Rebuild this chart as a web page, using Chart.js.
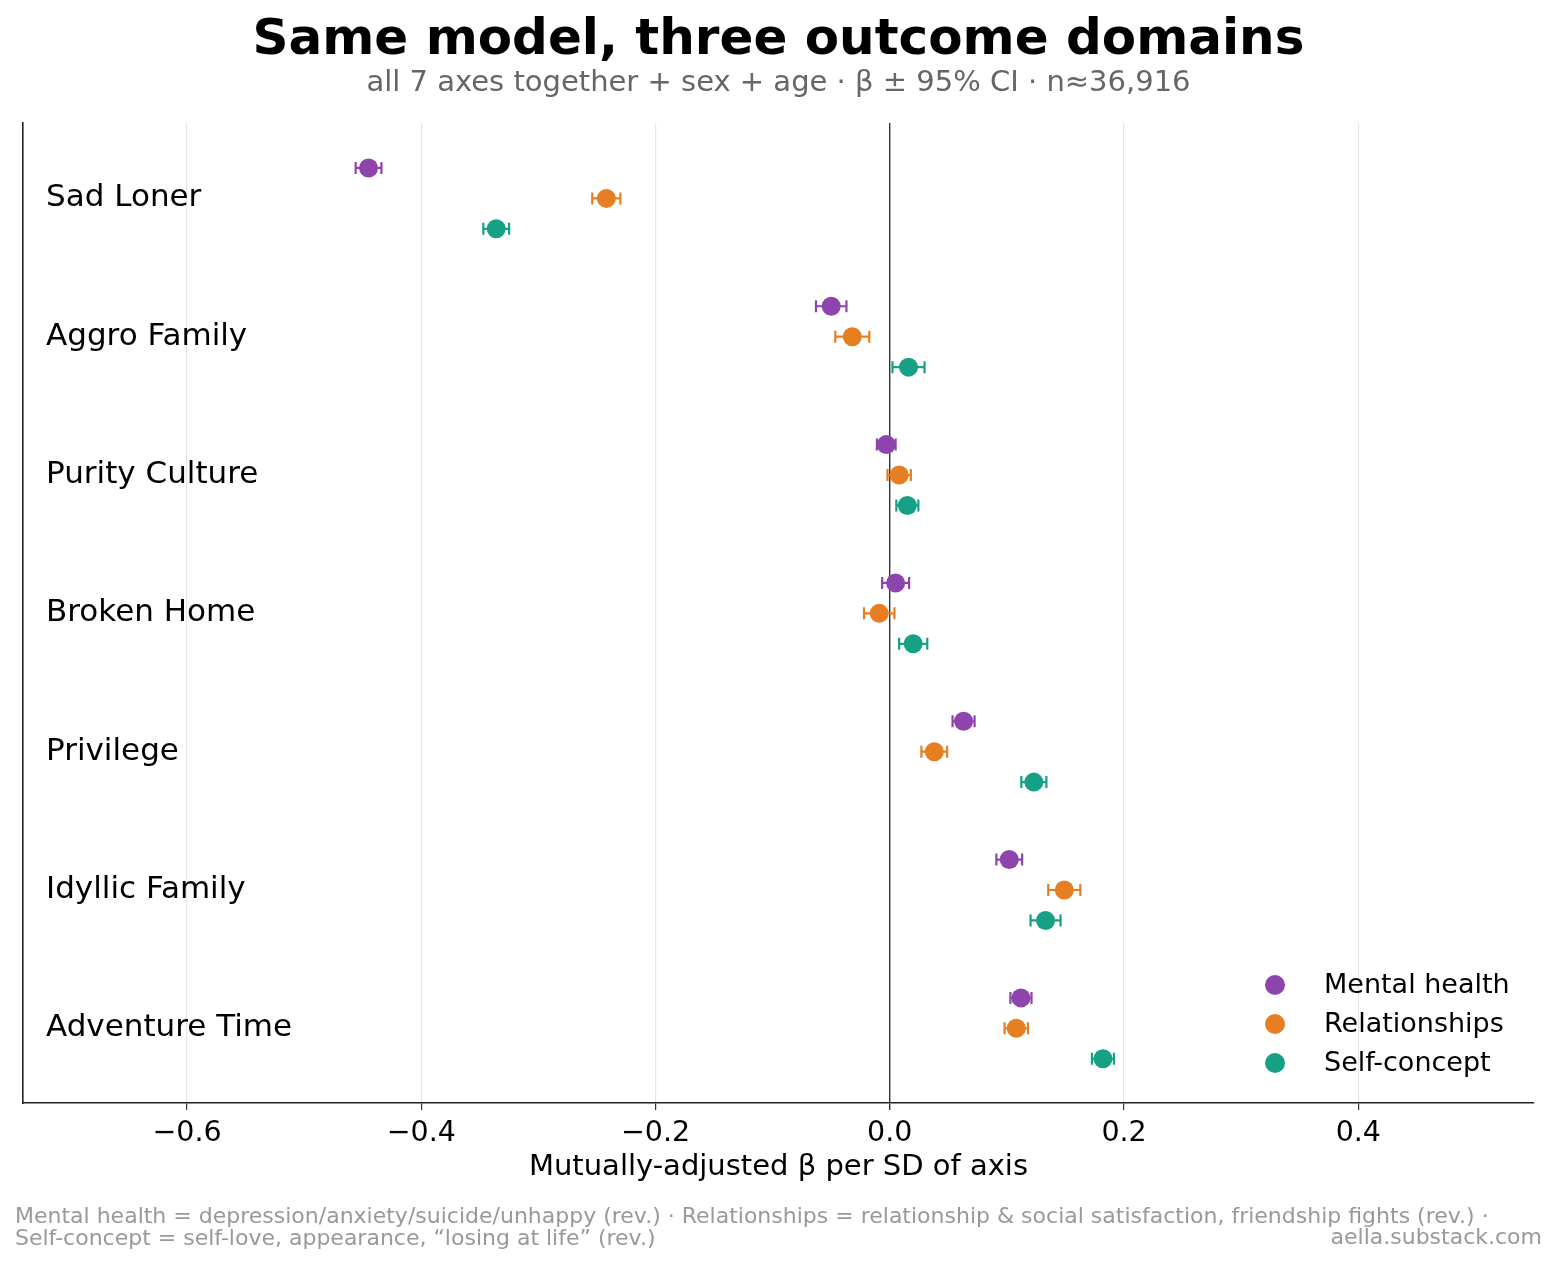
<!DOCTYPE html>
<html>
<head>
<meta charset="utf-8">
<script src="https://cdn.jsdelivr.net/npm/chart.js@4.4.1/dist/chart.umd.min.js"></script>
<style>
  body { margin: 0; background: #fff; font-family: 'DejaVu Sans', sans-serif; }
  #wrap { position: relative; width: 1557px; height: 1265px; }
  #chart { position: absolute; left: 0; top: 0; }
  .txt { position: absolute; white-space: nowrap; }
  #title { left: 0; width: 1557px; top: 8px; text-align: center; font-size: 50px; font-weight: bold; color: #000; }
  #subtitle { left: 0; width: 1557px; top: 64px; text-align: center; font-size: 29px; color: #666; }
  #foot1 { left: 15px; top: 1203px; font-size: 22px; color: #999; }
  #foot2 { left: 15px; top: 1225px; font-size: 22px; color: #999; }
  #credit { right: 15px; top: 1224px; font-size: 22px; color: #999; }
</style>
</head>
<body>
<div id="wrap">
  <canvas id="chart" width="1557" height="1265"></canvas>
  <div class="txt" id="title">Same model, three outcome domains</div>
  <div class="txt" id="subtitle">all 7 axes together + sex + age · β ± 95% CI · n≈36,916</div>
  <div class="txt" id="foot1">Mental health = depression/anxiety/suicide/unhappy (rev.) · Relationships = relationship &amp; social satisfaction, friendship fights (rev.) ·</div>
  <div class="txt" id="foot2">Self-concept = self-love, appearance, “losing at life” (rev.)</div>
  <div class="txt" id="credit">aella.substack.com</div>
</div>
<script>
// data
const categories = ['Sad Loner', 'Aggro Family', 'Purity Culture', 'Broken Home', 'Privilege', 'Idyllic Family', 'Adventure Time'];
const seriesNames = ['Mental health', 'Relationships', 'Self-concept'];
const seriesColors = ['#8e44ad', '#e67e22', '#16a085'];

const mentalBeta = [-0.445, -0.050, -0.003, 0.005, 0.063, 0.102, 0.112];
const mentalCI   = [0.011, 0.013, 0.008, 0.0115, 0.0094, 0.011, 0.009];
const relBeta    = [-0.242, -0.032, 0.008, -0.009, 0.038, 0.149, 0.108];
const relCI      = [0.012, 0.0145, 0.010, 0.013, 0.011, 0.0137, 0.010];
const selfBeta   = [-0.336, 0.016, 0.015, 0.020, 0.123, 0.133, 0.182];
const selfCI     = [0.011, 0.0137, 0.0094, 0.012, 0.0107, 0.0128, 0.0094];

const xTicks = [-0.6, -0.4, -0.2, 0, 0.2, 0.4];

const betas = [mentalBeta, relBeta, selfBeta];
const cis = [mentalCI, relCI, selfCI];
const offsets = [-0.22, 0, 0.22];
const FONT = "'DejaVu Sans', sans-serif";

const datasets = seriesNames.map((name, s) => ({
  label: name,
  data: categories.map((c, i) => ({ x: betas[s][i], y: i + offsets[s], ci: cis[s][i] })),
  backgroundColor: seriesColors[s],
  borderWidth: 0,
  pointRadius: 9.5,
  pointHoverRadius: 9.5
}));

// error bars under the dots
const errorBars = {
  id: 'errorBars',
  beforeDatasetsDraw(chart) {
    const { ctx, scales: { x, y } } = chart;
    ctx.save();
    ctx.lineWidth = 2.2;
    chart.data.datasets.forEach(ds => {
      ctx.strokeStyle = ds.backgroundColor;
      ds.data.forEach(p => {
        const x0 = x.getPixelForValue(p.x - p.ci);
        const x1 = x.getPixelForValue(p.x + p.ci);
        const yy = y.getPixelForValue(p.y);
        ctx.beginPath();
        ctx.moveTo(x0, yy); ctx.lineTo(x1, yy);
        ctx.moveTo(x0, yy - 6); ctx.lineTo(x0, yy + 6);
        ctx.moveTo(x1, yy - 6); ctx.lineTo(x1, yy + 6);
        ctx.stroke();
      });
    });
    ctx.restore();
  }
};

// legend in the lower right of the plot area
const cornerLegend = {
  id: 'cornerLegend',
  afterDraw(chart) {
    const { ctx, chartArea } = chart;
    ctx.save();
    ctx.font = '27px ' + FONT;
    ctx.textBaseline = 'middle';
    ctx.textAlign = 'left';
    seriesNames.forEach((name, i) => {
      const cy = chartArea.bottom - 118 + i * 39;
      const cx = chartArea.right - 259;
      ctx.fillStyle = seriesColors[i];
      ctx.beginPath();
      ctx.arc(cx, cy, 10, 0, Math.PI * 2);
      ctx.fill();
      ctx.fillStyle = '#000';
      ctx.fillText(name, cx + 49, cy + 1);
    });
    ctx.restore();
  }
};

new Chart(document.getElementById('chart'), {
  type: 'scatter',
  data: { datasets },
  plugins: [errorBars, cornerLegend],
  options: {
    responsive: false,
    animation: false,
    layout: { padding: { left: 23, right: 23, top: 123, bottom: 72 } },
    plugins: { legend: { display: false }, tooltip: { enabled: false } },
    scales: {
      x: {
        type: 'linear',
        min: -0.74,
        max: 0.55,
        afterBuildTicks: scale => { scale.ticks = xTicks.map(v => ({ value: v })); },
        afterFit: scale => { scale.height = 90; },
        grid: {
          color: ctx => (ctx.tick && ctx.tick.value === 0 ? '#333' : '#e6e6e6'),
          lineWidth: ctx => (ctx.tick && ctx.tick.value === 0 ? 1.4 : 1.2),
          tickColor: '#333',
          tickLength: 7,
          drawTicks: true
        },
        border: { display: true, color: '#222', width: 1.6 },
        ticks: {
          color: '#000',
          font: { family: FONT, size: 28.5 },
          padding: 6,
          maxRotation: 0,
          callback: v => (v < 0 ? '\u2212' + Math.abs(v).toFixed(1) : v.toFixed(1))
        },
        title: {
          display: true,
          text: 'Mutually-adjusted β per SD of axis',
          color: '#000',
          font: { family: FONT, size: 29 },
          padding: { top: 0, bottom: 8 }
        }
      },
      y: {
        type: 'linear',
        reverse: true,
        min: -0.545,
        max: 6.54,
        afterBuildTicks: scale => { scale.ticks = categories.map((c, i) => ({ value: i })); },
        afterFit: scale => { scale.width = 0; },
        grid: { display: false, drawTicks: false },
        border: { display: true, color: '#222', width: 1.6 },
        ticks: {
          mirror: true,
          padding: 23,
          color: '#000',
          font: { family: FONT, size: 31 },
          callback: v => categories[v]
        }
      }
    }
  }
});
</script>
</body>
</html>
